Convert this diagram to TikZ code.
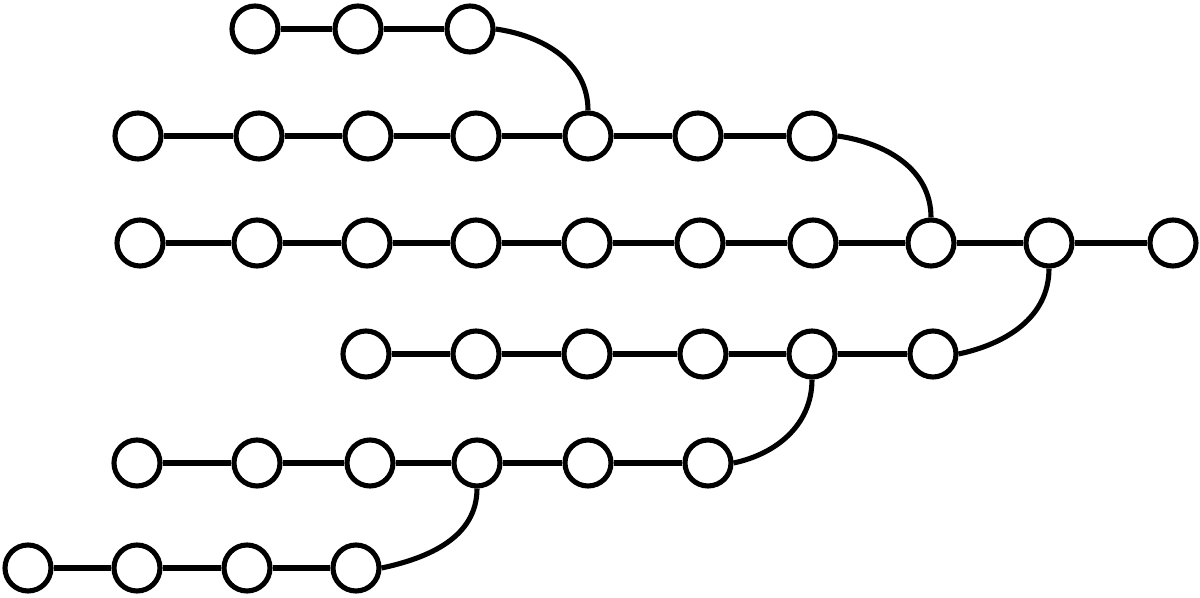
\documentclass[tikz,border=0pt]{standalone}
\usepackage{tikz}

\begin{document}
\begin{tikzpicture}[auto,color=black,every path/.append style={line width=1.45pt}]
\tikzset{vert/.style={draw,circle,fill=white,inner sep=0pt,minimum size=0.46cm},
	spine/.style={line width=1.8pt}}
\useasboundingbox (0,0) rectangle (12,-5.98);
% the six rows of vertices
\foreach \x [count=\i] in {2.55,3.58,4.70} {
	\node[vert] (a\i) at (\x,-0.29) {};
}
\foreach \x [count=\i] in {1.38,2.59,3.68,4.76,5.88,6.98,8.12} {
	\node[vert] (b\i) at (\x,-1.36) {};
}
\foreach \x [count=\i] in {1.40,2.57,3.67,4.76,5.87,7.00,8.13,9.31,10.49,11.73} {
	\node[vert] (c\i) at (\x,-2.43) {};
}
\foreach \x [count=\i] in {3.66,4.76,5.87,7.03,8.12,9.33} {
	\node[vert] (d\i) at (\x,-3.54) {};
}
\foreach \x [count=\i] in {1.37,2.57,3.70,4.77,5.88,7.08} {
	\node[vert] (e\i) at (\x,-4.63) {};
}
\foreach \x [count=\i] in {0.28,1.37,2.47,3.56} {
	\node[vert] (f\i) at (\x,-5.68) {};
}
% straight edges
\draw (a1) -- (a2) -- (a3);
\draw (b1) -- (b2) -- (b3) -- (b4) -- (b5) -- (b6) -- (b7);
\draw[spine] (c1) -- (c2) -- (c3) -- (c4) -- (c5) -- (c6) -- (c7) -- (c8) -- (c9) -- (c10);
\draw (d1) -- (d2) -- (d3) -- (d4) -- (d5) -- (d6);
\draw (e1) -- (e2) -- (e3) -- (e4) -- (e5) -- (e6);
\draw (f1) -- (f2) -- (f3) -- (f4);
% branches
\draw (a3.east) to[out=-8,in=90] (b5.north);
\draw (b7.east) to[out=-8,in=90] (c8.north);
\draw (d6.east) to[out=12,in=-90] (c9.south);
\draw (e6.east) to[out=12,in=-90] (d5.south);
\draw (f4.east) to[out=12,in=-90] (e4.south);
\end{tikzpicture}
\end{document}
